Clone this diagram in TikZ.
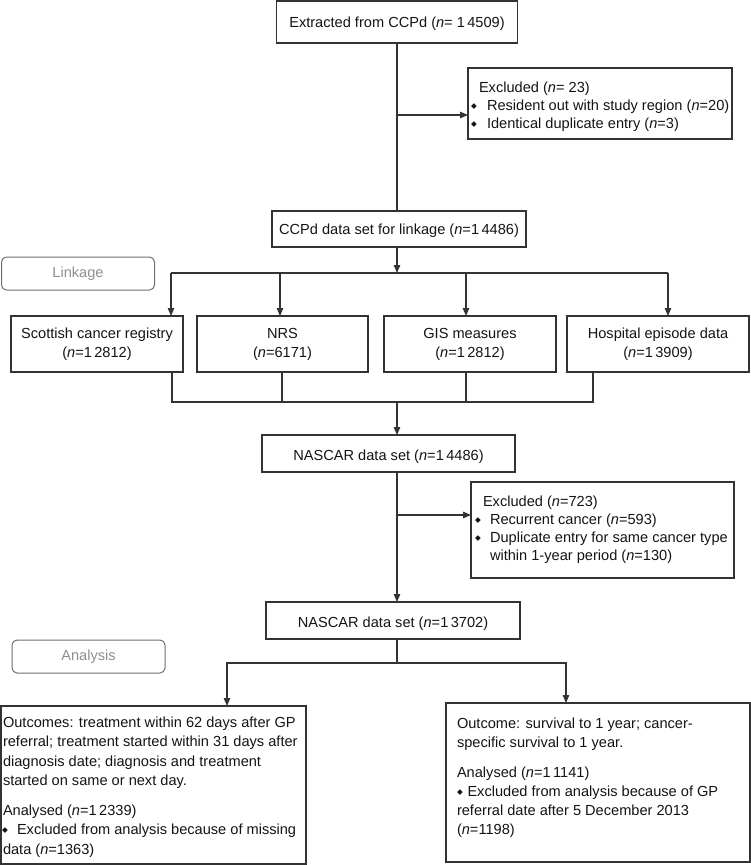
\documentclass[tikz,border=0pt]{standalone}
\usepackage{fontspec}
\setmainfont{Liberation Sans}
\newfontfamily\symfont{DejaVu Sans}
\usetikzlibrary{arrows.meta}
\definecolor{linec}{HTML}{333333}
\definecolor{textc}{HTML}{141414}
\definecolor{grayb}{HTML}{6E6E6E}
\definecolor{grayt}{HTML}{8F8F8F}
\newcommand{\nn}{\textit{n}}
\newcommand{\bul}[1]{\makebox[#1][l]{\symfont\fontsize{7.5}{7.5}\selectfont\raisebox{2pt}{◆}}}
\begin{document}
\begin{tikzpicture}[x=1pt,y=-1pt,
  box/.style={draw=linec, line width=1.1pt, inner sep=0pt, outer sep=0pt},
  tag/.style={draw=grayb, line width=1pt, rounded corners=5pt, inner sep=0pt, outer sep=0pt,
              text=grayt, font=\fontsize{14.6}{17}\selectfont},
  txt/.style={inner sep=0pt, outer sep=0pt, text=textc, font=\fontsize{14.6}{17}\selectfont},
  ln/.style={draw=linec, line width=1.1pt},
  arr/.style={draw=linec, line width=1.1pt, -{Triangle[length=8pt,width=6.5pt]}}]
\useasboundingbox (0,0) rectangle (751,865);

% boxes
\node[box, minimum width=241pt, minimum height=42pt] (top) at (397,22) {};
\node[box, minimum width=264pt, minimum height=71pt] (excl1) at (600,103.5) {};
\node[box, minimum width=254pt, minimum height=36pt] (ccpd) at (399,229) {};
\node[tag, minimum width=153pt, minimum height=33pt] (link) at (78,273.5) {Linkage};
\node[box, minimum width=172pt, minimum height=56pt] (scr) at (97,344) {};
\node[box, minimum width=171pt, minimum height=56pt] (nrs) at (282.5,344) {};
\node[box, minimum width=172pt, minimum height=56pt] (gis) at (470,344) {};
\node[box, minimum width=182pt, minimum height=56pt] (hos) at (658,344) {};
\node[box, minimum width=253pt, minimum height=37pt] (nas1) at (388.5,453.5) {};
\node[box, minimum width=263pt, minimum height=96pt] (excl2) at (602.5,530) {};
\node[box, minimum width=254pt, minimum height=37pt] (nas2) at (393,620.5) {};
\node[tag, minimum width=153pt, minimum height=33pt] (anal) at (88.5,656.5) {Analysis};
\node[box, minimum width=305pt, minimum height=158pt] (outl) at (153.5,785) {};
\node[box, minimum width=304pt, minimum height=159pt] (outr) at (598,782.5) {};

% texts
\node[txt, anchor=base] (t0) at (397,27) {Extracted from CCPd (\nn= 1\,4509)};
\node[txt, anchor=base west] (e1a) at (479,92) {Excluded (\nn= 23)};
\node[txt, anchor=base west] (e1b) at (471,110) {\bul{16pt}Resident out with study region (\nn=20)};
\node[txt, anchor=base west] (e1c) at (471,128) {\bul{16pt}Identical duplicate entry (\nn=3)};
\node[txt, anchor=base] (t1) at (399,234) {CCPd data set for linkage (\nn=1\,4486)};
\node[txt, anchor=base] (s1) at (97,338) {Scottish cancer registry};
\node[txt, anchor=base] (s2) at (97,357) {(\nn=1\,2812)};
\node[txt, anchor=base] (r1) at (282.5,338) {NRS};
\node[txt, anchor=base] (r2) at (282.5,357) {(\nn=6171)};
\node[txt, anchor=base] (g1) at (470,338) {GIS measures};
\node[txt, anchor=base] (g2) at (470,357) {(\nn=1\,2812)};
\node[txt, anchor=base] (h1) at (658,338) {Hospital episode data};
\node[txt, anchor=base] (h2) at (658,357) {(\nn=1\,3909)};
\node[txt, anchor=base] (t2) at (388.5,460) {NASCAR data set (\nn=1\,4486)};
\node[txt, anchor=base west] (e2a) at (483,506) {Excluded (\nn=723)};
\node[txt, anchor=base west] (e2b) at (475,524) {\bul{15pt}Recurrent cancer (\nn=593)};
\node[txt, anchor=base west] (e2c) at (475,542) {\bul{15pt}Duplicate entry for same cancer type};
\node[txt, anchor=base west] (e2d) at (490,560) {within 1-year period (\nn=130)};
\node[txt, anchor=base] (t3) at (393,627) {NASCAR data set (\nn=1\,3702)};
\node[txt, anchor=base west] (l1) at (3,727) {Outcomes: treatment within 62 days after GP};
\node[txt, anchor=base west] (l2) at (3,746.5) {referral; treatment started within 31 days after};
\node[txt, anchor=base west] (l3) at (3,766) {diagnosis date; diagnosis and treatment};
\node[txt, anchor=base west] (l4) at (3,785.5) {started on same or next day.};
\node[txt, anchor=base west] (l5) at (3,815) {Analysed (\nn=1\,2339)};
\node[txt, anchor=base west] (l6) at (2,834.5) {\bul{15pt}Excluded from analysis because of missing};
\node[txt, anchor=base west] (l7) at (3,854) {data (\nn=1363)};
\node[txt, anchor=base west] (q1) at (457,728) {Outcome: survival to 1 year; cancer-};
\node[txt, anchor=base west] (q2) at (457,747) {specific survival to 1 year.};
\node[txt, anchor=base west] (q3) at (457,777) {Analysed (\nn=1\,1141)};
\node[txt, anchor=base west] (q4) at (457,796) {\bul{10.5pt}Excluded from analysis because of GP};
\node[txt, anchor=base west] (q5) at (457,815) {referral date after 5 December 2013};
\node[txt, anchor=base west] (q6) at (457,834) {(\nn=1198)};

% junction coordinates
\coordinate (j1) at (397,115);
\coordinate (b0) at (397,273);
\coordinate (b1) at (171,273);
\coordinate (b2) at (280,273);
\coordinate (b3) at (466,273);
\coordinate (b4) at (668,273);
\coordinate (m0) at (397,402);
\coordinate (m1) at (172,402);
\coordinate (m2) at (282,402);
\coordinate (m3) at (466,402);
\coordinate (m4) at (593,402);
\coordinate (j2) at (397,515);
\coordinate (s0) at (397,663);
\coordinate (s1) at (227,663);
\coordinate (s2) at (566,663);

% connectors
\draw[ln] (top.south) -- (top.south |- ccpd.north);
\draw[arr] (j1) -- (j1 -| excl1.west);
\draw[arr] (b0 |- ccpd.south) -- (b0);
\draw[ln] (b1) -- (b4);
\draw[arr] (b1) -- (b1 |- scr.north);
\draw[arr] (b2) -- (b2 |- nrs.north);
\draw[arr] (b3) -- (b3 |- gis.north);
\draw[arr] (b4) -- (b4 |- hos.north);
\draw[ln] (m1 |- scr.south) -- (m1) -- (m4) -- (m4 |- hos.south);
\draw[ln] (m2 |- nrs.south) -- (m2);
\draw[ln] (m3 |- gis.south) -- (m3);
\draw[arr] (m0) -- (m0 |- nas1.north);
\draw[arr] (m0 |- nas1.south) -- (m0 |- nas2.north);
\draw[arr] (j2) -- (j2 -| excl2.west);
\draw[ln] (s0 |- nas2.south) -- (s0);
\draw[arr] (s0) -- (s1) -- (s1 |- outl.north);
\draw[arr] (s0) -- (s2) -- (s2 |- outr.north);
\end{tikzpicture}
\end{document}
